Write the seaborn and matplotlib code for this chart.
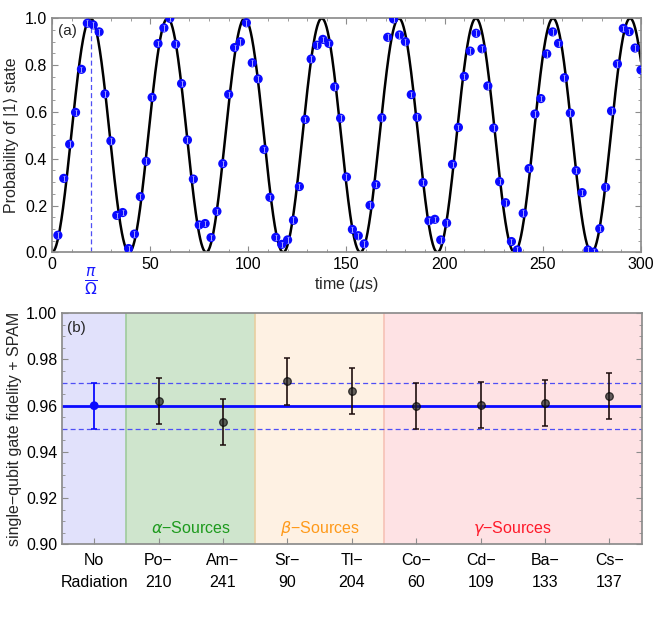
import numpy as np
import pandas as pd
import matplotlib
matplotlib.use("Agg")
import matplotlib.pyplot as plt
import seaborn as sns

# ---- panel (a): Rabi oscillation data ----
times = [3, 6, 9, 12, 15, 18, 21, 24, 27, 30,
         33, 36, 39, 42, 45, 48, 51, 54, 57, 60,
         63, 66, 69, 72, 75, 78, 81, 84, 87, 90,
         93, 96, 99, 102, 105, 108, 111, 114, 117, 120,
         123, 126, 129, 132, 135, 138, 141, 144, 147, 150,
         153, 156, 159, 162, 165, 168, 171, 174, 177, 180,
         183, 186, 189, 192, 195, 198, 201, 204, 207, 210,
         213, 216, 219, 222, 225, 228, 231, 234, 237, 240,
         243, 246, 249, 252, 255, 258, 261, 264, 267, 270,
         273, 276, 279, 282, 285, 288, 291, 294, 297, 300]
prob = [0.073, 0.316, 0.462, 0.598, 0.782, 0.979, 0.972, 0.942, 0.677, 0.476,
        0.158, 0.170, 0.016, 0.078, 0.238, 0.389, 0.662, 0.892, 0.959, 1.000,
        0.889, 0.721, 0.480, 0.313, 0.117, 0.123, 0.063, 0.175, 0.379, 0.675,
        0.875, 0.900, 0.981, 0.810, 0.741, 0.440, 0.235, 0.064, 0.034, 0.053,
        0.137, 0.281, 0.568, 0.826, 0.885, 0.910, 0.893, 0.707, 0.573, 0.322,
        0.098, 0.071, 0.036, 0.201, 0.289, 0.575, 0.919, 0.997, 0.929, 0.900,
        0.674, 0.577, 0.298, 0.135, 0.141, 0.053, 0.125, 0.376, 0.534, 0.752,
        0.860, 0.936, 0.870, 0.711, 0.531, 0.302, 0.212, 0.046, 0.010, 0.167,
        0.358, 0.591, 0.657, 0.848, 0.942, 0.893, 0.746, 0.595, 0.349, 0.255,
        0.010, 0.001, 0.101, 0.278, 0.604, 0.805, 0.957, 0.943, 0.873, 0.779]
prob_err = 0.012
pi_time = 19.63  # pi / Omega in microseconds (fit)

# ---- panel (b): fidelity per source ----
sources = ["No\nRadiation", "Po\u2212\n210", "Am\u2212\n241", "Sr\u2212\n90",
           "Tl\u2212\n204", "Co\u2212\n60", "Cd\u2212\n109", "Ba\u2212\n133",
           "Cs\u2212\n137"]
fidelity = [0.960, 0.962, 0.953, 0.9705, 0.9665, 0.960, 0.9603, 0.961, 0.9642]
fid_err = [0.010, 0.010, 0.010, 0.010, 0.010, 0.010, 0.010, 0.010, 0.010]
baseline = 0.960
baseline_band = 0.010

sns.set_theme(style="ticks")
plt.rcParams["font.family"] = ["Liberation Sans", "DejaVu Sans"]
plt.rcParams["mathtext.fontset"] = "dejavusans"
frame = "#8c8c8c"
plt.rcParams["axes.edgecolor"] = frame
plt.rcParams["xtick.color"] = frame
plt.rcParams["ytick.color"] = frame
plt.rcParams["xtick.labelcolor"] = "black"
plt.rcParams["ytick.labelcolor"] = "black"

fig = plt.figure(figsize=(6.54, 6.21), dpi=100)
ax1 = fig.add_axes([0.0795, 0.5937, 0.9006, 0.3768])
ax2 = fig.add_axes([0.0948, 0.1235, 0.8864, 0.3720])

# ---------------- (a) ----------------
df_a = pd.DataFrame({"time": times, "prob": prob})
t_fit = np.linspace(0, 300, 1500)
df_fit = pd.DataFrame({"time": t_fit,
                       "prob": np.sin(np.pi * t_fit / (2 * pi_time)) ** 2})

sns.lineplot(data=df_fit, x="time", y="prob", ax=ax1, color="black",
             linewidth=1.8, zorder=2)
ax1.plot([pi_time, pi_time], [0, 0.975], color="#4f4ff5", lw=0.9,
         dashes=(4, 2.5), zorder=1)
sns.scatterplot(data=df_a, x="time", y="prob", ax=ax1, color="#0a0aff",
                s=44, edgecolor="none", zorder=3)
ax1.errorbar(times, prob, yerr=prob_err, fmt="none", ecolor="#a8a8ff",
             elinewidth=0.7, capsize=1.0, capthick=0.5, zorder=4)

ax1.set_xlim(0, 300)
ax1.set_ylim(0, 1.0)
ax1.set_xticks([0, 50, 100, 150, 200, 250, 300])
ax1.set_xticks(np.arange(0, 301, 10), minor=True)
ax1.set_yticks([0, 0.2, 0.4, 0.6, 0.8, 1.0])
ax1.set_yticklabels(["0.0", "0.2", "0.4", "0.6", "0.8", "1.0"])
ax1.set_yticks(np.arange(0, 1.001, 0.05), minor=True)
ax1.tick_params(which="both", direction="in", top=True, right=True,
                labelsize=11.5)
ax1.tick_params(which="major", length=4.5, width=0.8)
ax1.tick_params(which="minor", length=2.5, width=0.6)
ax1.set_xlabel("time ($\\mu$s)", fontsize=11.5, labelpad=2)
ax1.set_ylabel("Probability of |1\u27e9 state", fontsize=11.5, labelpad=4)
ax1.text(pi_time, -0.055, "$\\frac{\\pi}{\\Omega}$", color="#1a1aff",
         fontsize=16, ha="center", va="top", transform=ax1.transData)
ax1.text(8, 0.945, "(a)", fontsize=11, ha="center", va="center")
for sp in ax1.spines.values():
    sp.set_color(frame)

# ---------------- (b) ----------------
pos = list(range(len(sources)))
df_b = pd.DataFrame({"pos": pos, "fid": fidelity, "err": fid_err})

regions = [(-0.5, 0.5, "#e1e1fb", "#c8c8f0"),
           (0.5, 2.5, "#cfe5cd", "#9fcb9c"),
           (2.5, 4.5, "#fef1e3", "#e8cfa0"),
           (4.5, 8.5, "#fee2e4", "#f6c2b6")]
for x0, x1, fc, ec in regions:
    ax2.axvspan(x0, x1, facecolor=fc, edgecolor="none", zorder=0)
    if x0 > -0.5:
        ax2.axvline(x0, color=ec, lw=1.2, zorder=0.5)

ax2.axhline(baseline, color="#0a0aff", lw=2.0, zorder=2)
ax2.axhline(baseline + baseline_band, color="#4f4ff5", lw=0.9,
            dashes=(4, 2.5), zorder=1)
ax2.axhline(baseline - baseline_band, color="#4f4ff5", lw=0.9,
            dashes=(4, 2.5), zorder=1)

ax2.errorbar(pos[:1], fidelity[:1], yerr=fid_err[:1], fmt="none",
             ecolor="#0a0aff", elinewidth=1.3, capsize=2.2, capthick=1.2,
             zorder=3)
ax2.errorbar(pos[1:], fidelity[1:], yerr=fid_err[1:], fmt="none",
             ecolor="#1a0a0a", alpha=0.9, elinewidth=1.3, capsize=2.2,
             capthick=1.2, zorder=3)
sns.scatterplot(data=df_b.iloc[:1], x="pos", y="fid", ax=ax2,
                color="#0a0aff", s=40, edgecolor="none", zorder=4)
sns.scatterplot(data=df_b.iloc[1:], x="pos", y="fid", ax=ax2,
                color="#222222", alpha=0.7, s=30, edgecolor="black",
                linewidth=0.9, zorder=4)

ax2.text(1.5, 0.907, "$\\alpha$\u2212Sources", color="#1d9a1d",
         fontsize=11.5, ha="center", va="center")
ax2.text(3.5, 0.907, "$\\beta$\u2212Sources", color="#ff9a1a",
         fontsize=11.5, ha="center", va="center")
ax2.text(6.5, 0.907, "$\\gamma$\u2212Sources", color="#ff1a2a",
         fontsize=11.5, ha="center", va="center")
ax2.text(-0.28, 0.9935, "(b)", fontsize=11, ha="center", va="center")

ax2.set_xlim(-0.5, 8.5)
ax2.set_ylim(0.90, 1.00)
ax2.set_xticks(pos)
ax2.set_xticklabels(sources, linespacing=1.6)
ax2.set_yticks([0.90, 0.92, 0.94, 0.96, 0.98, 1.00])
ax2.set_yticklabels(["0.90", "0.92", "0.94", "0.96", "0.98", "1.00"])
ax2.set_yticks(np.arange(0.90, 1.0001, 0.005), minor=True)
ax2.tick_params(which="both", direction="in", right=True, labelsize=11.5)
ax2.tick_params(axis="x", which="major", length=4, width=0.8, pad=6)
ax2.tick_params(axis="y", which="major", length=4.5, width=0.8)
ax2.tick_params(which="minor", length=2.5, width=0.6)
ax2.set_xlabel("")
ax2.set_ylabel("single\u2212qubit gate fidelity + SPAM", fontsize=11.5,
               labelpad=3)
for sp in ax2.spines.values():
    sp.set_color(frame)

fig.savefig("out.png", dpi=100)
